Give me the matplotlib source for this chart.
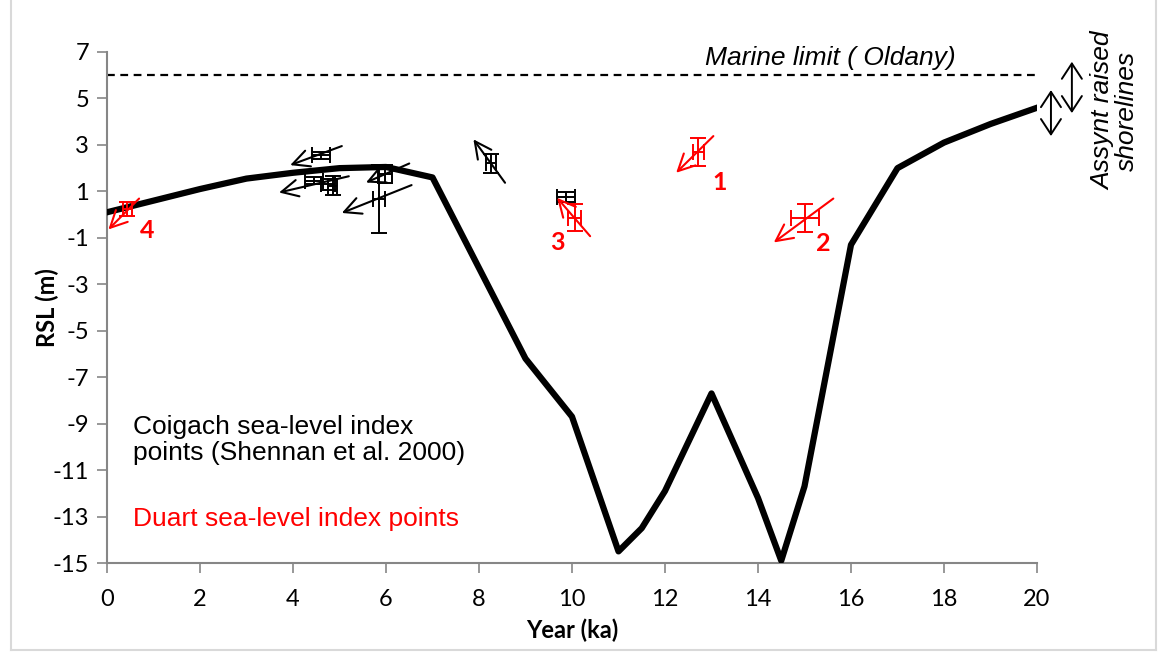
import matplotlib
matplotlib.use("Agg")
import matplotlib.pyplot as plt
from matplotlib.lines import Line2D

# RSL curve
curve_age = [0, 2, 3, 4, 5, 6, 7, 8, 9, 10, 11, 11.5, 12, 13, 14, 14.5, 15, 16, 17, 18, 19, 20]
curve_rsl = [0.1, 1.1, 1.55, 1.8, 2.0, 2.05, 1.6, -2.3, -6.2, -8.7, -14.5, -13.5, -11.9, -7.7,
             -12.2, -14.9, -11.7, -1.3, 2.0, 3.1, 3.9, 4.6]

# Coigach index points (black)
black_age = [4.6, 4.45, 4.75, 4.85, 5.85, 5.97, 8.25, 9.87]
black_rsl = [2.56, 1.45, 1.3, 1.25, 0.68, 1.74, 2.2, 0.76]
black_age_err = [0.2, 0.2, 0.15, 0.1, 0.12, 0.15, 0.11, 0.2]
black_rsl_err = [0.15, 0.15, 0.25, 0.4, 1.47, 0.4, 0.43, 0.2]
# arrows: (x_start, y_start, x_end, y_end)
black_arrows = [
    (5.05, 2.95, 3.94, 2.13),
    (5.2, 1.65, 3.7, 0.95),
    (6.55, 1.27, 5.05, 0.07),
    (6.5, 2.2, 5.57, 1.38),
    (8.56, 1.37, 7.88, 3.24),
]

# Duart index points (red)
red_age = [12.72, 15.01, 10.06, 0.44]
red_rsl = [2.70, -0.13, -0.13, 0.26]
red_age_err = [0.11, 0.31, 0.14, 0.1]
red_rsl_err = [0.6, 0.6, 0.58, 0.3]
red_labels = ["1", "2", "3", "4"]
red_label_pos = [(13.18, 1.4), (15.4, -1.23), (9.68, -1.19), (0.86, -0.67)]
red_arrows = [
    (13.04, 3.38, 12.24, 1.80),
    (15.62, 0.69, 14.34, -1.20),
    (10.39, -0.93, 9.68, 0.72),
    (0.69, 0.69, 0.03, -0.64),
]

# Marine limit and Assynt shorelines
marine_limit = 6
shoreline_x = [20.3, 20.75]
shoreline_low = [3.38, 4.37]
shoreline_high = [5.36, 6.58]

x_ticks = list(range(0, 21, 2))
y_ticks = list(range(-15, 8, 2))

RED = "#ff0000"
AXIS_GREY = "#868686"

fig = plt.figure(figsize=(11.65, 6.53), dpi=100)
ax = fig.add_axes([107 / 1165, 90 / 653, 930 / 1165, 511 / 653])

ax.plot(curve_age, curve_rsl, color="black", linewidth=4.5, zorder=3)

ax.plot([0, 20], [marine_limit, marine_limit], color="black", linewidth=1.6,
        linestyle=(0, (3.5, 2.5)), zorder=2)

ax.errorbar(black_age, black_rsl, xerr=black_age_err, yerr=black_rsl_err,
            fmt="none", ecolor="black", elinewidth=1.4, capsize=6, capthick=1.4, zorder=4)
ax.errorbar(red_age, red_rsl, xerr=red_age_err, yerr=red_rsl_err,
            fmt="none", ecolor=RED, elinewidth=1.4, capsize=6, capthick=1.4, zorder=4)

for x0, y0, x1, y1 in black_arrows:
    ax.annotate("", xy=(x1, y1), xytext=(x0, y0),
                arrowprops=dict(arrowstyle="->", color="black", lw=1.5,
                                mutation_scale=30, shrinkA=0, shrinkB=0), zorder=5)
for x0, y0, x1, y1 in red_arrows:
    ax.annotate("", xy=(x1, y1), xytext=(x0, y0),
                arrowprops=dict(arrowstyle="->", color=RED, lw=1.5,
                                mutation_scale=30, shrinkA=0, shrinkB=0), zorder=5)

for lab, (lx, ly) in zip(red_labels, red_label_pos):
    ax.text(lx, ly, lab, color=RED, fontsize=18, fontweight="bold",
            family="Lato", ha="center", va="center")

for sx, lo, hi in zip(shoreline_x, shoreline_low, shoreline_high):
    ax.annotate("", xy=(sx, hi), xytext=(sx, lo), annotation_clip=False,
                arrowprops=dict(arrowstyle="<->, head_length=0.55, head_width=0.36",
                                color="black", lw=1.4,
                                mutation_scale=20, shrinkA=0, shrinkB=0))

ax.text(15.55, 6.75, "Marine limit ( Oldany)", fontsize=19, style="italic",
        family="Liberation Sans", ha="center", va="center")
ax.text(21.68, 4.45, "Assynt raised\nshorelines", fontsize=19, style="italic",
        family="Liberation Sans", ha="center", va="center", rotation=90,
        linespacing=1.0, clip_on=False)

ax.text(0.56, -9.72, "Coigach sea-level index\npoints (Shennan et al. 2000)",
        fontsize=19, family="Liberation Sans", ha="left", va="center", linespacing=1.1)
ax.text(0.56, -13.09, "Duart sea-level index points", color=RED,
        fontsize=19, family="Liberation Sans", ha="left", va="center")

ax.set_xlim(0, 20)
ax.set_ylim(-15, 7)
ax.set_xticks(x_ticks)
ax.set_yticks(y_ticks)
ax.set_xticklabels([str(v) for v in x_ticks], family="Lato", fontsize=17)
ax.set_yticklabels([str(v) for v in y_ticks], family="Lato", fontsize=17)
ax.tick_params(axis="both", direction="out", length=7, width=1.2, color=AXIS_GREY)
ax.tick_params(axis="x", pad=12)
ax.tick_params(axis="y", pad=6)

for side in ["top", "right"]:
    ax.spines[side].set_visible(False)
for side in ["left", "bottom"]:
    ax.spines[side].set_color(AXIS_GREY)
    ax.spines[side].set_linewidth(1.5)

ax.set_xlabel("Year (ka)", family="Lato", fontsize=17, fontweight="bold", labelpad=6)
ax.set_ylabel("RSL (m)", family="Lato", fontsize=17, fontweight="bold", labelpad=-5)

# chart border
border = "#d9d9d9"
fig.add_artist(Line2D([11 / 1165, 11 / 1165], [0.005, 1], color=border, lw=1.5))
fig.add_artist(Line2D([1156 / 1165, 1156 / 1165], [0.005, 1], color=border, lw=1.5))
fig.add_artist(Line2D([11 / 1165, 1156 / 1165], [0.005, 0.005], color=border, lw=1.5))

fig.savefig("out.png", dpi=100)
